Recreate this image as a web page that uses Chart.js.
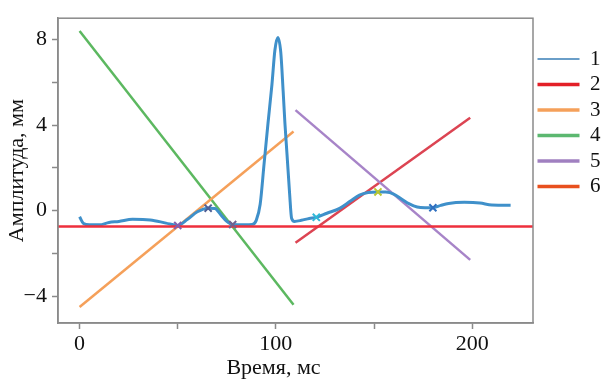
<!DOCTYPE html>
<html>
<head>
<meta charset="utf-8">
<script src="https://cdn.jsdelivr.net/npm/chart.js@4"></script>
<style>
  html, body { margin: 0; padding: 0; background: #fff; }
  #wrap { width: 601px; height: 381px; }
</style>
</head>
<body>
<div id="wrap"><canvas id="chart" width="601" height="381"></canvas></div>
<script>
// signal (series 1), time in ms / amplitude in mm
const signalTime = [0, 2, 5, 10, 15, 20, 27, 36, 44, 50, 55, 60, 65.5, 69, 72, 75, 78, 84, 88,
  90, 92, 94, 96, 98, 99.5, 101, 102.5, 103.7, 104.6, 105.7, 107, 108, 109.5, 113, 117, 120.6,
  126, 132.5, 138, 142.6, 147, 152, 156, 160, 164, 168, 172, 176, 180, 184, 188, 196, 204, 210, 219.6];
const signalValue = [-0.28, -0.6, -0.66, -0.66, -0.55, -0.5, -0.4, -0.43, -0.58, -0.69, -0.4, -0.05, 0.12, 0.1, -0.2, -0.5, -0.65, -0.66, -0.64,
  -0.45, 0.3, 2.2, 4.1, 5.9, 7.5, 8.1, 7.4, 5.6, 4.1, 2.6, 0.8, -0.35, -0.5, -0.45, -0.36, -0.31,
  -0.12, 0.11, 0.45, 0.73, 0.85, 0.88, 0.87, 0.78, 0.55, 0.32, 0.17, 0.14, 0.14, 0.25, 0.34, 0.39, 0.36, 0.27, 0.26];

// straight lines 2..6, end points [time, amplitude]
const line2 = [[-11, -0.74], [231, -0.74]];
const line3 = [[0, -4.5], [109, 3.7]];
const line4 = [[0, 8.4], [109, -4.4]];
const line5 = [[110, 4.7], [199, -2.3]];
const line6 = [[110, -1.5], [199, 4.35]];

// marked points on the signal
const markTime = [50, 65.5, 78, 120.6, 152, 180];
const markValue = [-0.69, 0.12, -0.65, -0.31, 0.88, 0.14];
const markColors = ['#8060b0', '#4f5f95', '#706090', '#30b8d8', '#b8c830', '#2f70c0'];

const legendNames = ['1', '2', '3', '4', '5', '6'];
const lineColors = ['#3f90ca', '#ee2f3c', '#f5a05a', '#5cb860', '#a784c8', '#dc4452'];
const legendColors = ['#6a9ec8', '#e32028', '#f5a05a', '#5cb870', '#a080c0', '#e8501e'];

const serif = 'Liberation Serif';
const toXY = pts => pts.map(p => ({ x: p[0], y: p[1] }));

// box round the plot area
const frame = {
  id: 'frame',
  afterDatasetsDraw(chart) {
    const { ctx, chartArea: a } = chart;
    ctx.save();
    ctx.strokeStyle = '#8a8a8a';
    ctx.lineWidth = 1.5;
    ctx.strokeRect(a.left, a.top, a.right - a.left, a.bottom - a.top);
    ctx.restore();
  }
};

const lineSet = (i, data, width) => ({
  label: legendNames[i],
  data,
  borderColor: lineColors[i],
  borderWidth: width,
  pointRadius: 0,
  fill: false
});

new Chart(document.getElementById('chart'), {
  type: 'line',
  data: {
    datasets: [
      { label: 'marks', data: markTime.map((t, i) => ({ x: t, y: markValue[i] })),
        showLine: false, pointStyle: 'crossRot', pointRadius: 5, borderWidth: 2,
        pointBorderColor: markColors, order: 0 },
      { ...lineSet(1, toXY(line2), 2.5), order: 1 },
      { ...lineSet(0, signalTime.map((t, i) => ({ x: t, y: signalValue[i] })), 3),
        tension: 0.35, cubicInterpolationMode: 'monotone', order: 2 },
      { ...lineSet(2, toXY(line3), 2.5), order: 3 },
      { ...lineSet(3, toXY(line4), 2.5), order: 3 },
      { ...lineSet(4, toXY(line5), 2.5), order: 3 },
      { ...lineSet(5, toXY(line6), 2.5), order: 3 }
    ]
  },
  options: {
    responsive: false,
    animation: false,
    layout: { padding: { top: 14, left: 0, right: 0, bottom: 0 } },
    plugins: {
      tooltip: { enabled: false },
      legend: {
        position: 'right',
        align: 'start',
        maxWidth: 68,
        title: { display: true, text: ' ', font: { size: 10 }, padding: { top: 0, bottom: 18 } },
        labels: {
          usePointStyle: true,
          pointStyle: 'line',
          pointStyleWidth: 42,
          padding: 4.5,
          color: '#111',
          font: { family: serif, size: 21 },
          filter: item => item.text !== 'marks',
          generateLabels(chart) {
            const items = Chart.defaults.plugins.legend.labels.generateLabels(chart);
            items.forEach(it => {
              const k = legendNames.indexOf(it.text);
              if (k >= 0) {
                it.strokeStyle = legendColors[k];
                it.lineWidth = k === 0 ? 2 : 3.5;
              }
            });
            return items.sort((a, b) => legendNames.indexOf(a.text) - legendNames.indexOf(b.text));
          }
        }
      }
    },
    scales: {
      x: {
        type: 'linear',
        min: -11,
        max: 231,
        afterFit: s => { s.height = 58; },
        grid: { drawOnChartArea: false, tickLength: 6, color: '#8a8a8a', tickWidth: 1.5 },
        border: { display: true, color: '#8a8a8a', width: 1.5 },
        ticks: {
          stepSize: 50,
          includeBounds: false,
          padding: 2,
          color: '#111',
          font: { family: serif, size: 22 },
          maxRotation: 0,
          callback: v => (v % 100 === 0 ? String(v) : '')
        },
        title: {
          display: true,
          text: 'Время, мс\u00a0\u00a0\u00a0\u00a0\u00a0\u00a0\u00a0\u00a0',
          color: '#111',
          font: { family: serif, size: 22 },
          padding: { top: 0, bottom: 0 }
        }
      },
      y: {
        min: -5.25,
        max: 9.0,
        afterFit: s => { s.width = 58; },
        grid: { drawOnChartArea: false, tickLength: 6, color: '#8a8a8a', tickWidth: 1.5 },
        border: { display: true, color: '#8a8a8a', width: 1.5 },
        ticks: {
          stepSize: 2,
          includeBounds: false,
          padding: 5,
          color: '#111',
          font: { family: serif, size: 22 },
          callback: v => (v % 4 === 0 ? (v < 0 ? '\u2212' + Math.abs(v) : String(v)) : '')
        },
        title: {
          display: true,
          text: 'Амплитуда, мм',
          color: '#111',
          font: { family: serif, size: 22 },
          padding: { top: 4, bottom: 4 }
        }
      }
    }
  },
  plugins: [frame]
});
</script>
</body>
</html>
